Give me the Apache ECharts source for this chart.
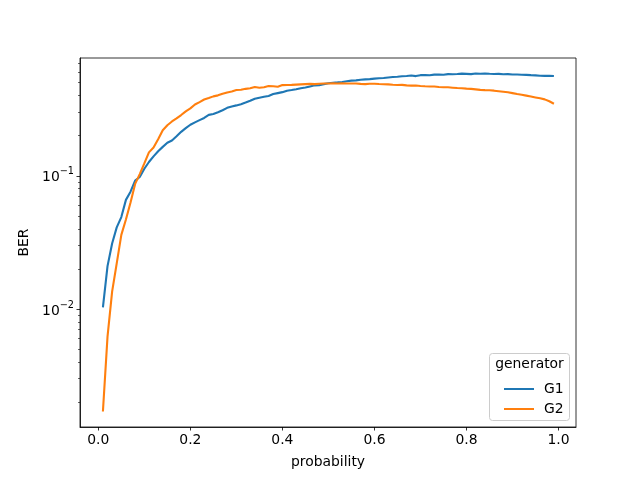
<!DOCTYPE html>
<html><head><meta charset="utf-8">
<script src="https://cdn.jsdelivr.net/npm/echarts@6/dist/echarts.min.js"></script>
<style>html,body{margin:0;padding:0;background:#fff}#c{width:640px;height:480px}</style>
</head><body><div id="c"></div>
<script>
const probability = [0.01,0.02,0.03,0.04,0.05,0.06,0.07,0.08,0.09,0.10,0.11,0.12,0.13,0.14,0.15,0.16,0.17,0.18,0.19,0.20,0.21,0.22,0.23,0.24,0.25,0.26,0.27,0.28,0.29,0.30,0.31,0.32,0.33,0.34,0.35,0.36,0.37,0.38,0.39,0.40,0.41,0.42,0.43,0.44,0.45,0.46,0.47,0.48,0.49,0.50,0.51,0.52,0.53,0.54,0.55,0.56,0.57,0.58,0.59,0.60,0.61,0.62,0.63,0.64,0.65,0.66,0.67,0.68,0.69,0.70,0.71,0.72,0.73,0.74,0.75,0.76,0.77,0.78,0.79,0.80,0.81,0.82,0.83,0.84,0.85,0.86,0.87,0.88,0.89,0.90,0.91,0.92,0.93,0.94,0.95,0.96,0.97,0.98,0.99];
const berG1 = [0.0103,0.021,0.031,0.041,0.049,0.066,0.076,0.092,0.098,0.113,0.127,0.140,0.153,0.165,0.177,0.184,0.198,0.214,0.228,0.242,0.252,0.262,0.272,0.287,0.291,0.300,0.311,0.324,0.332,0.338,0.345,0.355,0.366,0.379,0.386,0.392,0.398,0.411,0.418,0.425,0.436,0.441,0.447,0.455,0.460,0.469,0.478,0.480,0.488,0.496,0.500,0.503,0.507,0.513,0.519,0.521,0.527,0.530,0.532,0.537,0.541,0.543,0.548,0.552,0.554,0.560,0.562,0.566,0.561,0.570,0.572,0.569,0.575,0.577,0.574,0.580,0.579,0.581,0.585,0.583,0.580,0.586,0.584,0.587,0.584,0.582,0.583,0.579,0.580,0.576,0.577,0.574,0.573,0.570,0.568,0.565,0.563,0.564,0.562];
const berG2 = [0.0017,0.0062,0.0135,0.022,0.036,0.047,0.063,0.087,0.103,0.124,0.150,0.163,0.188,0.220,0.240,0.256,0.270,0.286,0.305,0.321,0.343,0.358,0.374,0.384,0.395,0.402,0.413,0.423,0.430,0.441,0.443,0.450,0.455,0.464,0.458,0.463,0.472,0.470,0.466,0.480,0.481,0.482,0.484,0.486,0.488,0.490,0.488,0.492,0.493,0.494,0.495,0.494,0.495,0.494,0.493,0.494,0.490,0.488,0.491,0.492,0.489,0.487,0.486,0.483,0.481,0.482,0.478,0.476,0.477,0.473,0.470,0.468,0.469,0.465,0.463,0.462,0.459,0.456,0.455,0.452,0.450,0.446,0.442,0.440,0.439,0.436,0.432,0.428,0.424,0.418,0.411,0.406,0.400,0.394,0.388,0.382,0.375,0.363,0.348];
const xTicks = [0.0,0.2,0.4,0.6,0.8,1.0];
const yMajorTicks = [0.01,0.1];
const yMinorTicks = [0.002,0.003,0.004,0.005,0.006,0.007,0.008,0.009,0.02,0.03,0.04,0.05,0.06,0.07,0.08,0.09,0.2,0.3,0.4,0.5,0.6,0.7];
const seriesNames = ['G1','G2'];
const legendTitle = 'generator';

const FONT = 'DejaVu Sans';
const FS = 13.9;
const yMin = 0.0013, yMax = 0.767;
const xMin = -0.0398, xMax = 1.038;

const chart = echarts.init(document.getElementById('c'), null, {renderer:'canvas'});
chart.setOption({
  animation:false,
  backgroundColor:'#fff',
  textStyle:{fontFamily:FONT},
  grid:{left:80,right:64,top:58,bottom:53,show:true,borderColor:'#000',borderWidth:0.8,backgroundColor:'transparent'},
  xAxis:{
    type:'value',min:xMin,max:xMax,
    name:'probability',nameLocation:'middle',nameGap:28,
    nameTextStyle:{fontFamily:FONT,fontSize:FS,color:'#000'},
    axisLine:{show:true,onZero:false,lineStyle:{color:'#000',width:0.8}},
    axisTick:{show:true,length:3.5,lineStyle:{color:'#000',width:0.8},customValues:xTicks},
    axisLabel:{show:true,fontFamily:FONT,fontSize:FS,color:'#000',margin:6,customValues:xTicks,formatter:v=>v.toFixed(1)},
    splitLine:{show:false}
  },
  yAxis:[{
    type:'log',logBase:10,min:yMin,max:yMax,
    name:'BER',nameLocation:'middle',nameGap:48,nameRotate:90,
    nameTextStyle:{fontFamily:FONT,fontSize:FS,color:'#000'},
    axisLine:{show:true,onZero:false,lineStyle:{color:'#000',width:0.8}},
    axisTick:{show:true,length:3.5,lineStyle:{color:'#000',width:0.8},customValues:yMajorTicks},
    axisLabel:{show:true,margin:6,customValues:yMajorTicks,
      formatter:v=>{const e=Math.round(Math.log10(v));return '{b|10}{s|'+String(e).replace('-','\u2212')+'}';},
      rich:{b:{fontFamily:FONT,fontSize:FS,color:'#000',verticalAlign:'bottom',lineHeight:18},s:{fontFamily:FONT,fontSize:9.7,color:'#000',verticalAlign:'top',lineHeight:18,padding:[0,0,8,0]}}},
    splitLine:{show:false}
  },{
    type:'log',logBase:10,min:yMin,max:yMax,position:'left',
    axisLine:{show:false,onZero:false},
    axisTick:{show:true,length:2,lineStyle:{color:'#000',width:0.6},customValues:yMinorTicks},
    axisLabel:{show:false},
    splitLine:{show:false}
  }],
  legend:{
    orient:'vertical',left:499,top:377,itemWidth:30,itemHeight:2,itemGap:6,
    icon:'rect',z:100,
    data:seriesNames,
    textStyle:{fontFamily:FONT,fontSize:FS,color:'#000',padding:[0,0,0,5]},
    backgroundColor:'transparent'
  },
  graphic:[
    {type:'rect',shape:{x:489.5,y:353.5,width:80,height:67,r:3},style:{fill:'rgba(255,255,255,0.8)',stroke:'#cccccc',lineWidth:1},z:5},
    {type:'text',x:529.5,y:357,style:{text:legendTitle,fontFamily:FONT,fontSize:FS,fill:'#000',align:'center'},z:6}
  ],
  series:[
    {name:seriesNames[0],type:'line',data:probability.map((p,i)=>[p,berG1[i]]),showSymbol:false,symbol:'none',lineStyle:{color:'#1f77b4',width:2.1},itemStyle:{color:'#1f77b4'},z:3},
    {name:seriesNames[1],type:'line',data:probability.map((p,i)=>[p,berG2[i]]),showSymbol:false,symbol:'none',lineStyle:{color:'#ff7f0e',width:2.1},itemStyle:{color:'#ff7f0e'},z:4}
  ]
});
</script></body></html>
